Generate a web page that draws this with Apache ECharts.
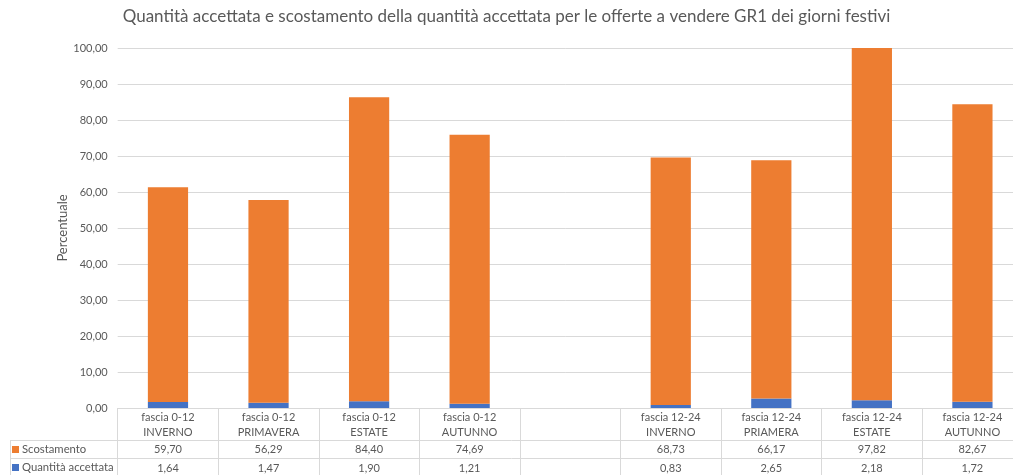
<!DOCTYPE html>
<html>
<head>
<meta charset="utf-8">
<script src="https://cdn.jsdelivr.net/npm/echarts@6/dist/echarts.min.js"></script>
<style>
html,body{margin:0;padding:0;background:#fff;}
#chart{width:1013px;height:475px;}
</style>
</head>
<body>
<div id="chart"></div>
<script>
const categories = ['fascia 0-12\nINVERNO', 'fascia 0-12\nPRIMAVERA', 'fascia 0-12\nESTATE', 'fascia 0-12\nAUTUNNO', '', 'fascia 12-24\nINVERNO', 'fascia 12-24\nPRIAMERA', 'fascia 12-24\nESTATE', 'fascia 12-24\nAUTUNNO'];
const scostamento = [59.70, 56.29, 84.40, 74.69, null, 68.73, 66.17, 97.82, 82.67];
const quantita = [1.64, 1.47, 1.90, 1.21, null, 0.83, 2.65, 2.18, 1.72];
const seriesNames = ['Scostamento', 'Quantità accettata'];
const titleText = 'Quantità accettata e scostamento della quantità accettata per le offerte a vendere GR1 dei giorni festivi';
const yAxisName = 'Percentuale';

const FONT = 'Lato';
const TXT = '#595959';
const LINE = '#D9D9D9';
const fmt = v => (v === null || v === undefined) ? '' : v.toFixed(2).replace('.', ',');

const chart = echarts.init(document.getElementById('chart'), null, {renderer: 'canvas'});

const tableAxis = (arr, offset) => ({
  type: 'category',
  gridIndex: 0,
  position: 'bottom',
  data: categories,
  offset: offset,
  axisLine: {show: false},
  axisTick: {show: false},
  splitLine: {show: false},
  axisLabel: {
    interval: 0, margin: 0, color: TXT, fontFamily: FONT, fontSize: 11, lineHeight: 14,
    formatter: (v, i) => fmt(arr[i])
  }
});

chart.setOption({
  animation: false,
  backgroundColor: '#fff',
  title: {
    text: titleText,
    left: 'center',
    top: 8,
    padding: 0,
    textStyle: {fontFamily: FONT, fontSize: 17, fontWeight: 'normal', color: TXT}
  },
  legend: {
    data: seriesNames,
    orient: 'vertical',
    left: 12,
    top: 442.5,
    padding: 0,
    itemWidth: 7,
    itemHeight: 7,
    itemGap: 4,
    icon: 'rect',
    textStyle: {fontFamily: FONT, fontSize: 11.3, color: TXT, lineHeight: 14, padding: [0,0,0,-2]}
  },
  grid: {left: 117.7, top: 48, width: 905, height: 360, containLabel: false, outerBoundsMode: 'none'},
  xAxis: [
    {
      type: 'category',
      data: categories,
      position: 'bottom',
      axisLine: {show: true, lineStyle: {color: LINE, width: 1}},
      axisTick: {show: true, interval: 0, alignWithLabel: false, length: 67, lineStyle: {color: LINE}},
      axisLabel: {interval: 0, margin: 2, color: TXT, fontFamily: FONT, fontSize: 11, lineHeight: 15}
    },
    tableAxis(scostamento, 34),
    tableAxis(quantita, 53)
  ],
  yAxis: {
    type: 'value',
    min: 0, max: 100, interval: 10,
    name: yAxisName,
    nameLocation: 'middle',
    nameGap: 48,
    nameMoveOverlap: false,
    nameTextStyle: {fontFamily: FONT, fontSize: 13, color: TXT},
    axisLine: {show: false},
    axisTick: {show: false},
    axisLabel: {margin: 10, color: TXT, fontFamily: FONT, fontSize: 11, formatter: v => fmt(v)},
    splitLine: {show: true, lineStyle: {color: LINE, width: 1}}
  },
  series: [
    {
      name: seriesNames[1], type: 'bar', stack: 'tot', barWidth: '40%',
      data: quantita, itemStyle: {color: '#4472C4'}
    },
    {
      name: seriesNames[0], type: 'bar', stack: 'tot', barWidth: '40%',
      data: scostamento, itemStyle: {color: '#ED7D31'}
    }
  ],
  graphic: [
    {type: 'line', shape: {x1: 10, y1: 440.5, x2: 1013, y2: 440.5}, style: {stroke: LINE, lineWidth: 1}, silent: true},
    {type: 'line', shape: {x1: 10, y1: 458.5, x2: 1013, y2: 458.5}, style: {stroke: LINE, lineWidth: 1}, silent: true},
    {type: 'line', shape: {x1: 10.5, y1: 440.5, x2: 10.5, y2: 475}, style: {stroke: LINE, lineWidth: 1}, silent: true}
  ]
});
</script>
</body>
</html>
